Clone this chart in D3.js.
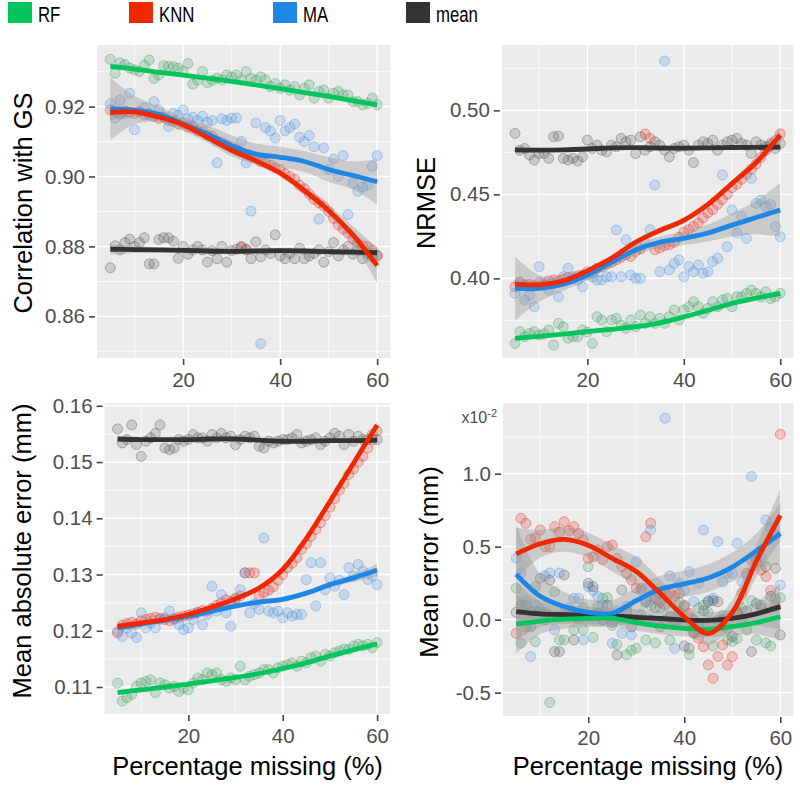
<!DOCTYPE html>
<html><head><meta charset="utf-8">
<script src="https://cdn.jsdelivr.net/npm/d3@7"></script>
<style>body{margin:0;background:#fff} svg{display:block}</style>
</head><body><svg id="c" width="800" height="787"></svg>
<script>
// ---------------- DATA ----------------
const methods = ["RF", "KNN", "MA", "mean"];
const pctMissing = [5,6,7,8,9,10,11,12,13,14,15,16,17,18,19,20,21,22,23,24,25,26,27,28,29,30,31,32,33,34,35,36,37,38,39,40,41,42,43,44,45,46,47,48,49,50,51,52,53,54,55,56,57,58,59,60];
const fitX = [5,10,15,20,25,30,35,40,45,50,55,60];
const xMajorTicks = [20, 40, 60];
const xMinorTicks = [10, 30, 50];

// Panel 1: correlation with GS
const corrRF = [.9335,.9295,.9325,.9320,.9310,.9305,.9300,.9318,.9333,.9280,.9290,.9317,.9315,.9314,.9310,.9300,.9323,.9264,.9276,.9300,.9268,.9275,.9281,.9276,.9290,.9285,.9290,.9276,.9300,.9281,.9276,.9285,.9276,.9257,.9266,.9252,.9262,.9247,.9257,.9233,.9252,.9262,.9224,.9243,.9247,.9224,.9238,.9243,.9233,.9233,.9214,.9214,.9205,.9209,.9224,.9205];
const corrKNN = [.9190,.9185,.9178,.9188,.9183,.9180,.9186,.9176,.9180,.9172,.9166,.9170,.9160,.9158,.9150,.9152,.9142,.9140,.9130,.9128,.9118,.9115,.9102,.9098,.9090,.9085,.9078,.8797,.8790,.9058,.9055,.9042,.9038,.9032,.9025,.9020,.9008,.9000,.8992,.8975,.8965,.8950,.8935,.8925,.8915,.8900,.8880,.8862,.8850,.8838,.8822,.8810,.8802,.8800,.8790,.8772];
const corrMA = [.9208,.9167,.9219,.9180,.9238,.9134,.9185,.9196,.9175,.9214,.9190,.9170,.9143,.9180,.9175,.9190,.9165,.9170,.9160,.9172,.9155,.9160,.9039,.9165,.9160,.9167,.9167,.9100,.9039,.8901,.9153,.8522,.9140,.9130,.9110,.9160,.9130,.9140,.9150,.9112,.9100,.9117,.9085,.8878,.9082,.9020,.9050,.9001,.9060,.8891,.8982,.8958,.8970,.8975,.9029,.9060];
const corrMean = [.8739,.8802,.8790,.8811,.8821,.8800,.8811,.8825,.8750,.8750,.8820,.8825,.8825,.8815,.8766,.8800,.8778,.8790,.8800,.8790,.8755,.8788,.8765,.8800,.8755,.8788,.8792,.8800,.8792,.8765,.8813,.8770,.8790,.8780,.8833,.8773,.8765,.8780,.8765,.8795,.8765,.8773,.8780,.8790,.8755,.8785,.8811,.8773,.8790,.8800,.8778,.8790,.8765,.8780,.8770,.8775];
const corrFitRF = [.9315,.9307,.9298,.9290,.9281,.9272,.9262,.9251,.9240,.9229,.9217,.9205];
const corrFitKNN = [.9183,.9185,.9170,.9148,.9112,.9075,.9045,.9010,.8960,.8903,.8833,.8745];
const corrFitMA = [.9193,.9190,.9178,.9150,.9122,.9088,.9064,.9055,.9043,.9020,.9003,.8985];
const corrFitMean = [.8792,.8791,.8790,.8789,.8787,.8786,.8787,.8788,.8787,.8785,.8784,.8782];
const corrSeRF = [.0008,.0006,.0005,.0005,.0005,.0005,.0005,.0005,.0005,.0005,.0006,.0008];
const corrSeKNN = [.0022,.0012,.0010,.0010,.0010,.0010,.0010,.0010,.0012,.0015,.0025,.0050];
const corrSeMA = [.0090,.0040,.0022,.0020,.0025,.0030,.0030,.0030,.0030,.0035,.0040,.0065];
const corrSeMean = [.0015,.0010,.0008,.0008,.0008,.0008,.0008,.0008,.0008,.0008,.0010,.0015];
const corrTicks = [.86,.88,.90,.92];
const corrMinor = [.85,.87,.89,.91,.93];

// Panel 2: NRMSE
const nrmseRF = [.3613,.3683,.3653,.3673,.3683,.3663,.3670,.3693,.3603,.3732,.3712,.3643,.3653,.3653,.3693,.3680,.3613,.3772,.3752,.3683,.3752,.3762,.3722,.3702,.3752,.3712,.3782,.3732,.3772,.3732,.3762,.3732,.3772,.3812,.3752,.3812,.3831,.3861,.3831,.3792,.3821,.3861,.3831,.3871,.3880,.3831,.3890,.3890,.3910,.3930,.3910,.3890,.3920,.3880,.3890,.3911];
const nrmseKNN = [.3950,.3980,.3960,.3965,.3955,.3975,.3960,.3985,.3990,.3985,.3995,.4005,.3998,.4015,.4020,.4040,.4030,.4060,.4070,.4085,.4095,.4110,.4125,.4140,.4130,.4160,.4175,.4859,.4833,.4170,.4180,.4195,.4200,.4215,.4245,.4275,.4290,.4310,.4330,.4360,.4390,.4410,.4440,.4470,.4500,.4540,.4560,.4590,.4620,.4650,.4680,.4720,.4760,.4790,.4820,.4860];
const nrmseMA = [.3911,.3970,.3871,.3900,.3831,.4069,.3970,.3930,.3970,.3891,.4010,.4060,.4010,.3990,.3950,.4020,.4010,.3990,.3990,.4010,.4010,.4288,.4010,.4230,.4020,.4000,.4000,.4210,.4290,.4556,.4040,.5294,.4050,.4089,.4110,.4010,.4070,.4040,.4079,.4030,.4040,.4100,.4120,.4615,.4188,.4407,.4270,.4370,.4238,.4595,.4446,.4466,.4427,.4440,.4308,.4248];
const nrmseMean = [.4863,.4763,.4773,.4734,.4704,.4743,.4743,.4714,.4843,.4847,.4714,.4704,.4714,.4698,.4724,.4823,.4773,.4793,.4763,.4753,.4793,.4783,.4833,.4813,.4823,.4743,.4843,.4763,.4783,.4813,.4793,.4763,.4724,.4773,.4783,.4793,.4763,.4689,.4793,.4813,.4803,.4823,.4763,.4793,.4813,.4823,.4833,.4803,.4793,.4743,.4813,.4793,.4783,.4803,.4773,.4803];
const nrmseFitRF = [.3643,.3655,.3668,.3683,.3697,.3712,.3735,.3770,.3810,.3851,.3882,.3911];
const nrmseFitKNN = [.3966,.3962,.3985,.4045,.4120,.4215,.4285,.4345,.4440,.4565,.4690,.4853];
const nrmseFitMA = [.3940,.3940,.3965,.4020,.4095,.4169,.4215,.4238,.4270,.4317,.4362,.4407];
const nrmseFitMean = [.4765,.4763,.4765,.4770,.4777,.4778,.4776,.4775,.4777,.4779,.4780,.4781];
const nrmseSeRF = [.0015,.0010,.0008,.0008,.0008,.0008,.0008,.0008,.0008,.0008,.0010,.0015];
const nrmseSeKNN = [.0040,.0020,.0018,.0018,.0018,.0018,.0018,.0018,.0018,.0020,.0025,.0045];
const nrmseSeMA = [.0190,.0080,.0040,.0030,.0030,.0030,.0035,.0040,.0050,.0070,.0100,.0160];
const nrmseSeMean = [.0020,.0012,.0010,.0010,.0010,.0010,.0010,.0010,.0010,.0010,.0012,.0020];
const nrmseTicks = [.40,.45,.50];
const nrmseMinor = [.375,.425,.475,.525];

// Panel 3: mean absolute error (mm)
const maeRF = [.1107,.1075,.1081,.1087,.1101,.1107,.1110,.1113,.1090,.1107,.1104,.1098,.1101,.1092,.1098,.1095,.1107,.1116,.1113,.1125,.1122,.1125,.1113,.1110,.1116,.1113,.1137,.1113,.1119,.1122,.1125,.1131,.1131,.1125,.1134,.1137,.1140,.1143,.1137,.1146,.1143,.1152,.1155,.1146,.1158,.1155,.1161,.1164,.1167,.1167,.1173,.1176,.1173,.1176,.1170,.1179];
const maeKNN = [.1196,.1210,.1213,.1215,.1212,.1218,.1220,.1222,.1224,.1222,.1220,.1218,.1222,.1224,.1226,.1228,.1230,.1233,.1236,.1235,.1240,.1245,.1250,.1255,.1252,.1258,.1262,.1303,.1303,.1303,.1262,.1268,.1272,.1278,.1290,.1300,.1312,.1320,.1330,.1345,.1355,.1368,.1380,.1392,.1405,.1420,.1435,.1450,.1462,.1478,.1488,.1500,.1510,.1525,.1540,.1555];
const maeMA = [.1199,.1190,.1205,.1196,.1188,.1232,.1205,.1214,.1205,.1220,.1223,.1235,.1220,.1211,.1202,.1205,.1220,.1232,.1211,.1229,.1279,.1235,.1264,.1232,.1208,.1256,.1273,.1303,.1232,.1248,.1238,.1365,.1235,.1232,.1235,.1223,.1232,.1226,.1229,.1229,.1291,.1321,.1244,.1321,.1273,.1294,.1279,.1290,.1264,.1312,.1297,.1318,.1306,.1291,.1297,.1282];
const maeMean = [.1559,.1534,.1540,.1566,.1531,.1510,.1537,.1543,.1551,.1566,.1525,.1522,.1525,.1540,.1537,.1540,.1549,.1543,.1543,.1537,.1549,.1543,.1551,.1543,.1546,.1531,.1540,.1546,.1543,.1546,.1528,.1525,.1537,.1534,.1537,.1540,.1540,.1543,.1549,.1534,.1537,.1540,.1543,.1531,.1537,.1543,.1551,.1546,.1531,.1549,.1537,.1546,.1540,.1540,.1549,.1540];
const maeFitRF = [.1090,.1095,.1100,.1105,.1111,.1117,.1124,.1133,.1143,.1155,.1166,.1177];
const maeFitKNN = [.1208,.1214,.1220,.1229,.1242,.1257,.1276,.1309,.1364,.1430,.1498,.1566];
const maeFitMA = [.1205,.1212,.1219,.1226,.1235,.1244,.1251,.1256,.1267,.1282,.1294,.1308];
const maeFitMean = [.1541,.1540,.1540,.1540,.1541,.1541,.1539,.1537,.1537,.1538,.1538,.1539];
const maeSeRF = [.0003,.0002,.0002,.0002,.0002,.0002,.0002,.0002,.0002,.0002,.0002,.0003];
const maeSeKNN = [.0006,.0004,.0003,.0003,.0003,.0003,.0003,.0003,.0003,.0003,.0004,.0007];
const maeSeMA = [.0009,.0004,.0003,.0003,.0003,.0003,.0003,.0004,.0004,.0005,.0007,.0011];
const maeSeMean = [.0004,.0003,.0002,.0002,.0002,.0002,.0002,.0002,.0002,.0002,.0003,.0004];
const maeTicks = [.11,.12,.13,.14,.15,.16];
const maeMinor = [.105,.115,.125,.135,.145,.155];

// Panel 4: mean error (mm, x10^-2)
const meRF = [.215,-.162,.100,-.050,-.151,.070,.050,-.568,.192,-.139,-.139,.050,-.070,.000,-.070,.363,-.121,.089,.146,.150,-.040,-.170,.000,-.240,-.210,-.196,.000,-.140,.100,-.160,.080,.000,-.140,.000,.120,.100,-.240,-.090,.080,.100,.050,-.180,.000,.030,-.140,-.150,-.130,.080,-.070,.130,-.140,.100,-.160,-.180,.140,.150];
const meKNN = [-.094,.694,.660,.550,.560,.614,.500,.500,.637,.600,.671,.610,.637,.590,.546,.420,.430,.477,.410,.500,.511,.420,.363,.317,.272,.215,.215,.568,.660,.146,.120,.200,.180,.158,.180,.089,.043,-.093,-.128,-.185,-.310,-.402,-.253,-.173,-.310,-.253,.050,.180,.317,.409,.409,.340,.295,.200,.089,1.270];
const meMA = [.420,.320,.130,-.253,.100,.050,.300,.320,-.070,.320,.050,.080,.146,.146,-.139,.226,.200,.158,.100,.020,-.162,.060,-.093,.090,-.105,.397,.200,.130,.614,.150,.180,1.380,.300,-.196,.249,.200,.329,.123,.250,.614,.130,.146,.534,.260,.317,.317,.523,.260,.300,.980,.400,.432,.683,.626,.580,.238];
const meMean = [.050,.100,-.050,.050,.226,.283,.000,.270,-.219,-.219,.306,.050,-.139,.020,.080,.249,.226,.043,.000,.100,-.020,-.242,.203,.060,-.050,.000,.030,.120,.000,.080,-.050,.100,.020,-.030,.050,-.180,-.196,.000,-.030,.060,.123,.130,.123,.000,-.060,-.116,.050,.000,.060,-.219,.110,.080,.363,.160,.352,-.105];
const meFitRF = [-.030,-.010,.003,.009,.010,-.020,-.045,-.060,-.066,-.048,-.020,.020];
const meFitKNN = [.450,.520,.550,.510,.420,.330,.180,.020,-.095,.050,.400,.715];
const meFitMA = [.310,.160,.090,.050,.044,.130,.210,.245,.285,.360,.470,.590];
const meFitMean = [.055,.040,.035,.030,.025,.016,.008,-.002,-.005,.009,.040,.089];
const meSeRF = [.200,.090,.065,.060,.055,.055,.055,.055,.055,.060,.080,.160];
const meSeKNN = [.180,.095,.085,.085,.090,.100,.095,.085,.080,.085,.110,.180];
const meSeMA = [.340,.150,.100,.090,.090,.090,.090,.090,.095,.100,.120,.210];
const meSeMean = [.200,.090,.065,.060,.055,.055,.055,.055,.055,.060,.080,.160];
const meTicks = [-.5, 0, .5, 1.0];
const meMinor = [-.25, .25, .75, 1.25];

// ---------------- STYLE ----------------
const lineColor = {RF: "#00c55c", KNN: "#f02800", MA: "#1e87e5", mean: "#333333"};
const pointColor = {RF: "#3a9d5d", KNN: "#e8281e", MA: "#4a8fe0", mean: "#555555"};
const sansFont = "'Liberation Sans', Arial, Helvetica, sans-serif";
const xDomain = [2.25, 62.75];

const panels = [
  {id: "corr", left: 97, right: 390.5, top: 45, bottom: 358, yDomain: [.8481, .9376],
   ticks: corrTicks, minor: corrMinor, fmt: d => d.toFixed(2), title: "Correlation with GS", titleX: 32, titleY: 203,
   pts: {RF: corrRF, KNN: corrKNN, MA: corrMA, mean: corrMean},
   fit: {RF: corrFitRF, KNN: corrFitKNN, MA: corrFitMA, mean: corrFitMean},
   se: {RF: corrSeRF, KNN: corrSeKNN, MA: corrSeMA, mean: corrSeMean}},
  {id: "nrmse", left: 501.8, right: 793.5, top: 45, bottom: 358, yDomain: [.3526, .5389],
   ticks: nrmseTicks, minor: nrmseMinor, fmt: d => d.toFixed(2), title: "NRMSE", titleX: 435, titleY: 203,
   pts: {RF: nrmseRF, KNN: nrmseKNN, MA: nrmseMA, mean: nrmseMean},
   fit: {RF: nrmseFitRF, KNN: nrmseFitKNN, MA: nrmseFitMA, mean: nrmseFitMean},
   se: {RF: nrmseSeRF, KNN: nrmseSeKNN, MA: nrmseSeMA, mean: nrmseSeMean}},
  {id: "mae", left: 104.6, right: 390.1, top: 403, bottom: 714, yDomain: [.1052, .1605],
   ticks: maeTicks, minor: maeMinor, fmt: d => d.toFixed(2), title: "Mean absolute error (mm)", titleX: 31, titleY: 551,
   xTitle: true, xTitleX: 247.5,
   pts: {RF: maeRF, KNN: maeKNN, MA: maeMA, mean: maeMean},
   fit: {RF: maeFitRF, KNN: maeFitKNN, MA: maeFitMA, mean: maeFitMean},
   se: {RF: maeSeRF, KNN: maeSeKNN, MA: maeSeMA, mean: maeSeMean}},
  {id: "me", left: 503, right: 793.5, top: 403, bottom: 716, yDomain: [-.66, 1.484],
   ticks: meTicks, minor: meMinor, fmt: d => d.toFixed(1), title: "Mean error (mm)", titleX: 438, titleY: 562,
   xTitle: true, xTitleX: 648, exponent: true,
   pts: {RF: meRF, KNN: meKNN, MA: meMA, mean: meMean},
   fit: {RF: meFitRF, KNN: meFitKNN, MA: meFitMA, mean: meFitMean},
   se: {RF: meSeRF, KNN: meSeKNN, MA: meSeMA, mean: meSeMean}}
];

const svg = d3.select("#c");
const defs = svg.append("defs");

// ---------------- LEGEND ----------------
const legendX = [8, 129, 273, 406];
const legend = svg.append("g");
methods.forEach((m, i) => {
  legend.append("rect").attr("x", legendX[i]).attr("y", 2).attr("width", 24).attr("height", 21)
    .attr("fill", lineColor[m]);
  legend.append("text").attr("transform", `translate(${legendX[i] + 30},22) scale(0.78,1)`)
    .attr("font-family", sansFont)
    .attr("font-size", 21.5).attr("fill", "#000").text(m);
});

// ---------------- PANELS ----------------
panels.forEach(p => {
  const x = d3.scaleLinear().domain(xDomain).range([p.left, p.right]);
  const y = d3.scaleLinear().domain(p.yDomain).range([p.bottom, p.top]);
  const g = svg.append("g");
  const clip = "clip-" + p.id;
  defs.append("clipPath").attr("id", clip).append("rect")
    .attr("x", p.left).attr("y", p.top).attr("width", p.right - p.left).attr("height", p.bottom - p.top);

  g.append("rect").attr("x", p.left).attr("y", p.top).attr("width", p.right - p.left)
    .attr("height", p.bottom - p.top).attr("fill", "#ebebeb");

  // grid
  const grid = g.append("g").attr("stroke", "#ffffff");
  grid.selectAll(".ymin").data(p.minor).join("line")
    .attr("x1", p.left).attr("x2", p.right).attr("y1", d => y(d)).attr("y2", d => y(d)).attr("stroke-width", 0.7);
  grid.selectAll(".xmin").data(xMinorTicks).join("line").attr("class", "xmin")
    .attr("y1", p.top).attr("y2", p.bottom).attr("x1", d => x(d)).attr("x2", d => x(d)).attr("stroke-width", 0.7);
  grid.selectAll(".ymaj").data(p.ticks).join("line").attr("class", "ymaj")
    .attr("x1", p.left).attr("x2", p.right).attr("y1", d => y(d)).attr("y2", d => y(d)).attr("stroke-width", 1.4);
  grid.selectAll(".xmaj").data(xMajorTicks).join("line").attr("class", "xmaj")
    .attr("y1", p.top).attr("y2", p.bottom).attr("x1", d => x(d)).attr("x2", d => x(d)).attr("stroke-width", 1.4);

  const plot = g.append("g").attr("clip-path", `url(#${clip})`);

  // points
  methods.forEach(m => {
    plot.append("g").selectAll("circle").data(p.pts[m]).join("circle")
      .attr("cx", (d, i) => x(pctMissing[i])).attr("cy", d => y(d)).attr("r", 5)
      .attr("fill", pointColor[m]).attr("fill-opacity", 0.22)
      .attr("stroke", pointColor[m]).attr("stroke-opacity", 0.38).attr("stroke-width", 1);
  });

  // ribbons
  methods.forEach(m => {
    const area = d3.area().curve(d3.curveCatmullRom.alpha(0.5))
      .x((d, i) => x(fitX[i]))
      .y0((d, i) => y(d - p.se[m][i]))
      .y1((d, i) => y(d + p.se[m][i]));
    plot.append("path").datum(p.fit[m]).attr("d", area).attr("fill", "#999999").attr("fill-opacity", 0.4);
  });

  // smooth lines
  ["mean", "RF", "MA", "KNN"].forEach(m => {
    const line = d3.line().curve(d3.curveCatmullRom.alpha(0.5))
      .x((d, i) => x(fitX[i])).y(d => y(d));
    plot.append("path").datum(p.fit[m]).attr("d", line).attr("fill", "none")
      .attr("stroke", lineColor[m]).attr("stroke-width", 4.8).attr("stroke-linecap", "butt");
  });

  // axes
  const yAxis = g.append("g").attr("transform", `translate(${p.left - 2},0)`)
    .call(d3.axisLeft(y).tickValues(p.ticks).tickFormat(p.fmt).tickSize(6).tickPadding(4));
  const xAxis = g.append("g").attr("transform", `translate(0,${p.bottom + 1})`)
    .call(d3.axisBottom(x).tickValues(xMajorTicks).tickFormat(d3.format("d")).tickSize(6).tickPadding(7));
  [yAxis, xAxis].forEach(a => {
    a.select(".domain").remove();
    a.selectAll(".tick line").attr("stroke", "#444").attr("stroke-width", 1.6);
    a.selectAll(".tick text").attr("fill", "#4d4d4d").attr("font-size", 20.5).attr("font-family", sansFont);
  });

  // titles
  g.append("text").attr("transform", `translate(${p.titleX},${p.titleY}) rotate(-90)`)
    .attr("text-anchor", "middle").attr("font-family", sansFont).attr("font-size", 25.5)
    .attr("fill", "#000").text(p.title);
  if (p.xTitle) {
    g.append("text").attr("x", p.xTitleX).attr("y", 775).attr("text-anchor", "middle")
      .attr("font-family", sansFont).attr("font-size", 25.5).attr("fill", "#000").text("Percentage missing (%)");
  }
  if (p.exponent) {
    const t = g.append("text").attr("x", 497).attr("y", 423).attr("text-anchor", "end")
      .attr("font-family", sansFont).attr("font-size", 16).attr("fill", "#4d4d4d");
    t.append("tspan").text("x10");
    t.append("tspan").attr("font-size", 11).attr("dy", -6).text("-2");
  }
});
</script>
</body></html>
